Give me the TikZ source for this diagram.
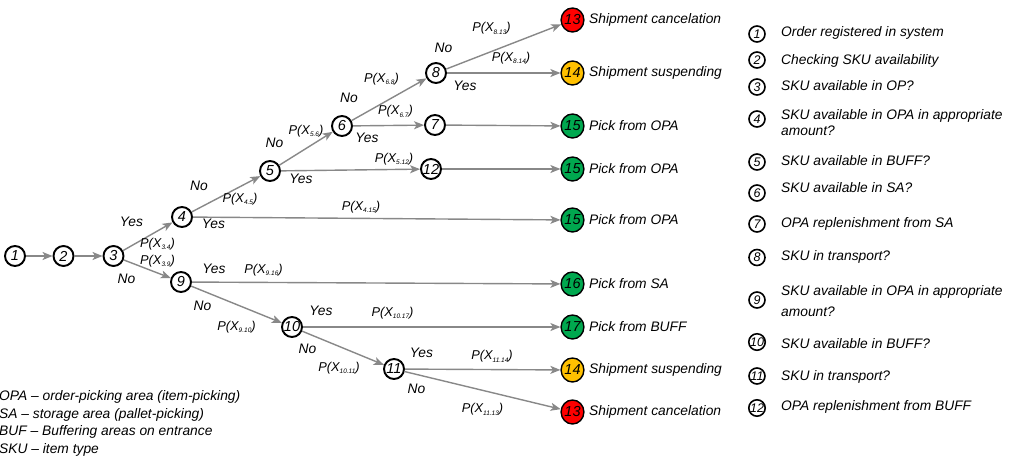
\documentclass[tikz,border=0pt]{standalone}
\usepackage{fontspec}
\setmainfont{Liberation Sans}
\usetikzlibrary{arrows.meta,shapes.geometric}
\definecolor{arrgray}{HTML}{888888}
\definecolor{tred}{HTML}{FF0000}
\definecolor{tgold}{HTML}{FFC000}
\definecolor{tgreen}{HTML}{00A84F}
\newcommand{\pxl}[1]{P(X\raisebox{-2.5pt}{\fontsize{6.5}{6.5}\selectfont #1})}
\begin{document}
\begin{tikzpicture}[x=1pt,y=-1pt,font=\fontsize{13.8}{16}\selectfont\itshape,
  st/.style={circle,draw,line width=1.9pt,minimum size=20pt,inner sep=0pt,font=\fontsize{14.5}{14.5}\selectfont\itshape},
  term/.style={ellipse,draw,line width=1.4pt,minimum width=21pt,minimum height=24pt,inner sep=0pt,font=\fontsize{14.5}{14.5}\selectfont\itshape},
  legc/.style={circle,draw,line width=1.6pt,minimum size=16pt,inner sep=0pt,font=\fontsize{12.5}{12.5}\selectfont\itshape},
  arr/.style={draw=arrgray,line width=1.4pt,-{Stealth[length=10pt,width=8pt,inset=2.5pt]}},
  lbl/.style={inner sep=0pt},
  plbl/.style={inner sep=0pt,font=\fontsize{12.8}{13}\selectfont\itshape},
  ttxt/.style={anchor=west,inner sep=0pt},
  ltxt/.style={anchor=west,inner sep=0pt,align=left}]
\useasboundingbox (0,0) rectangle (1014,461);
% tree nodes
\node[st] (n1) at (15,256) {1};
\node[st] (n2) at (63.5,256) {2};
\node[st] (n3) at (113.5,256) {3};
\node[st] (n4) at (182,217) {4};
\node[st] (n5) at (270,171) {5};
\node[st] (n6) at (342,126) {6};
\node[st] (n7) at (435,125) {7};
\node[st] (n8) at (436,73) {8};
\node[st] (n12) at (431,169) {12};
\node[st] (n9) at (181,282) {9};
\node[st] (n10) at (292,327) {10};
\node[st] (n11) at (394,369) {11};
% terminals
\node[term,fill=tred] (t13a) at (572.5,20) {13};
\node[term,fill=tgold] (t14a) at (572.5,73) {14};
\node[term,fill=tgreen] (t15a) at (572.5,126) {15};
\node[term,fill=tgreen] (t15b) at (572.5,169) {15};
\node[term,fill=tgreen] (t15c) at (572.5,220) {15};
\node[term,fill=tgreen] (t16) at (572.5,284) {16};
\node[term,fill=tgreen] (t17) at (572.5,327) {17};
\node[term,fill=tgold] (t14b) at (572.5,370) {14};
\node[term,fill=tred] (t13b) at (572.5,412) {13};
% terminal texts
\node[ttxt] (l13a) at (589,20) {Shipment cancelation};
\node[ttxt] (l14a) at (589,73) {Shipment suspending};
\node[ttxt] (l15a) at (589,126) {Pick from OPA};
\node[ttxt] (l15b) at (589,169) {Pick from OPA};
\node[ttxt] (l15c) at (589,220) {Pick from OPA};
\node[ttxt] (l16) at (589,284) {Pick from SA};
\node[ttxt] (l17) at (589,327) {Pick from BUFF};
\node[ttxt] (l14b) at (589,370) {Shipment suspending};
\node[ttxt] (l13b) at (589,412) {Shipment cancelation};
% edges
\draw[arr] (n1) -- (n2);
\draw[arr] (n2) -- (n3);
\draw[arr] (n3) -- (n4);
\draw[arr] (n3) -- (n9);
\draw[arr] (n4) -- (n5);
\draw[arr] (n4) -- (t15c);
\draw[arr] (n5) -- (n6);
\draw[arr] (n5) -- (n12);
\draw[arr] (n6) -- (n8);
\draw[arr] (n6) -- (n7);
\draw[arr] (n7) -- (t15a);
\draw[arr] (n12) -- (t15b);
\draw[arr] (n8) -- (t13a);
\draw[arr] (n8) -- (t14a);
\draw[arr] (n9) -- (t16);
\draw[arr] (n9) -- (n10);
\draw[arr] (n10) -- (t17);
\draw[arr] (n10) -- (n11);
\draw[arr] (n11) -- (t14b);
\draw[arr] (n11) -- (t13b);
% edge labels
\node[lbl] (y34) at (131.5,222) {Yes};
\node[plbl] (p34) at (157.5,244) {\pxl{3.4}};
\node[plbl] (p39) at (157.5,261) {\pxl{3.9}};
\node[lbl] (no39) at (126.5,279) {No};
\node[lbl] (no45) at (199,186) {No};
\node[plbl] (p45) at (240,199) {\pxl{4.5}};
\node[lbl] (y415) at (213.5,224) {Yes};
\node[plbl] (p415) at (361,207) {\pxl{4.15}};
\node[lbl] (no56) at (274.5,142.5) {No};
\node[plbl] (p56) at (306,131) {\pxl{5.6}};
\node[lbl] (y512) at (301,178.5) {Yes};
\node[plbl] (p512) at (394,159) {\pxl{5.12}};
\node[lbl] (no68) at (349,98) {No};
\node[plbl] (p68) at (381.5,79) {\pxl{6.8}};
\node[lbl] (y67) at (367,138) {Yes};
\node[plbl] (p67) at (395.5,111.5) {\pxl{6.7}};
\node[lbl] (no813) at (443.5,48) {No};
\node[plbl] (p813) at (491.5,28.5) {\pxl{8.13}};
\node[lbl] (y814) at (465,86) {Yes};
\node[plbl] (p814) at (511,58) {\pxl{8.14}};
\node[lbl] (y916) at (214,269) {Yes};
\node[plbl] (p916) at (263.5,270) {\pxl{9.16}};
\node[lbl] (no910) at (202.5,306) {No};
\node[plbl] (p910) at (236.5,327) {\pxl{9.10}};
\node[lbl] (y1017) at (321,311) {Yes};
\node[plbl] (p1017) at (392.5,313) {\pxl{10.17}};
\node[lbl] (no1011) at (307.5,349) {No};
\node[plbl] (p1011) at (339,368) {\pxl{10.11}};
\node[lbl] (y1114) at (421.5,352.5) {Yes};
\node[plbl] (p1114) at (492,356.5) {\pxl{11.14}};
\node[lbl] (no1113) at (416.5,389) {No};
\node[plbl] (p1113) at (482.5,409.5) {\pxl{11.13}};
% right legend
\node[legc] (c1) at (757,34) {1};
\node[legc] (c2) at (757,60) {2};
\node[legc] (c3) at (757,87) {3};
\node[legc] (c4) at (757,119) {4};
\node[legc] (c5) at (757,162) {5};
\node[legc] (c6) at (757,193) {6};
\node[legc] (c7) at (757,224) {7};
\node[legc] (c8) at (757,257.5) {8};
\node[legc] (c9) at (757,300) {9};
\node[legc] (c10) at (757,342) {10};
\node[legc] (c11) at (757,376) {11};
\node[legc] (c12) at (757,408) {12};
\node[ltxt] (d1) at (781,33) {Order registered in system};
\node[ltxt] (d2) at (781,61) {Checking SKU availability};
\node[ltxt] (d3) at (781,86) {SKU available in OP?};
\node[ltxt] (d4) at (781,122.5) {SKU available in OPA in appropriate\\amount?};
\node[ltxt] (d5) at (781,161) {SKU available in BUFF?};
\node[ltxt] (d6) at (781,187.5) {SKU available in SA?};
\node[ltxt] (d7) at (781,223.5) {OPA replenishment from SA};
\node[ltxt] (d8) at (781,256.5) {SKU in transport?};
\node[ltxt] (d9) at (781,301.5) {SKU available in OPA in appropriate\\[5pt]amount?};
\node[ltxt] (d10) at (781,343.5) {SKU available in BUFF?};
\node[ltxt] (d11) at (781,376.5) {SKU in transport?};
\node[ltxt] (d12) at (781,406.5) {OPA replenishment from BUFF};
% bottom-left legend
\node[ltxt,font=\fontsize{13.8}{17.8}\selectfont\itshape] (abbr) at (-1,423.5) {OPA -- order-picking area (item-picking)\\SA -- storage area (pallet-picking)\\BUF -- Buffering areas on entrance\\SKU -- item type};
\end{tikzpicture}
\end{document}
